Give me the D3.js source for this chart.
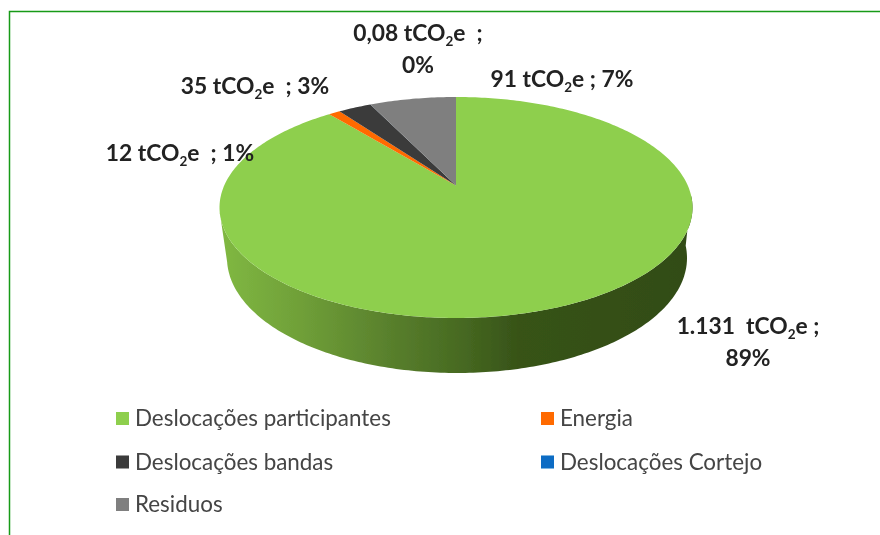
<!DOCTYPE html>
<html>
<head>
<meta charset="utf-8">
<script src="https://cdn.jsdelivr.net/npm/d3@7"></script>
<style>
  html, body { margin: 0; padding: 0; background: #fff; }
  svg { display: block; }
  text { font-family: Lato, "Open Sans", sans-serif; white-space: pre; }
</style>
</head>
<body>
<div id="chart-area"></div>
<script>
// slices, in drawing order (clockwise from 12 o'clock)
var categories = ["Deslocações participantes", "Energia", "Deslocações bandas", "Deslocações Cortejo", "Residuos"];
var values     = [1131, 12, 35, 0.08, 91];
var colors     = ["#8ecf4e", "#ff6a00", "#3a3a3a", "#0a6cc4", "#7f7f7f"];

// data labels, each line is [text before the subscript, text after it]
var labelLines = [
    [["1.131  tCO", "e ;"], ["89%", ""]],
    [["12 tCO", "e  ; 1%"]],
    [["35 tCO", "e  ; 3%"]],
    [["0,08 tCO", "e  ;"], ["0%", ""]],
    [["91 tCO", "e ; 7%"]]
];
var labelPos = [[748, 334], [180, 161], [255, 94], [418, 41], [562, 87]];

var width = 880, height = 535;

var svg = d3.select("#chart-area")
    .append("svg")
        .attr("width", width)
        .attr("height", height);

var defs = svg.append("defs");

var blur = defs.append("filter").attr("id", "soft")
    .attr("x", "-5%").attr("y", "-5%").attr("width", "110%").attr("height", "110%");
blur.append("feGaussianBlur").attr("stdDeviation", 0.5);

var wallGrad = defs.append("linearGradient")
    .attr("id", "wall")
    .attr("gradientUnits", "userSpaceOnUse")
    .attr("x1", 222).attr("x2", 692).attr("y1", 0).attr("y2", 0);
[[0, "#80b842"], [0.17, "#6f9f38"], [0.38, "#567c2b"], [0.5, "#486b22"], [0.63, "#375318"], [1, "#324c17"]]
    .forEach(function(s) {
        wallGrad.append("stop").attr("offset", s[0]).attr("stop-color", s[1]);
    });

// frame, open on the right
svg.append("path")
    .attr("d", "M9.5 535V11.5H880")
    .attr("fill", "none")
    .attr("stroke", "#179a17")
    .attr("stroke-width", 1.5);

var g = svg.append("g").attr("filter", "url(#soft)");

// the disc is drawn in perspective: its centre sits above the centre of the ellipse
var top3d = { cx: 456, cy: 207.5, rx: 236.5, ry: 110.5, apexUp: 22 };
var bottom3d = { cx: 457, cy: 258, rx: 230, ry: 115 };

var b = top3d.apexUp / top3d.ry;
var ax = top3d.rx * Math.sqrt(1 - b * b);

function project(a) {
    var u = Math.sin(a), v = Math.cos(a), k = 1 + b * v;
    return [
        top3d.cx + ax * u / k,
        top3d.cy - (top3d.ry * v + top3d.apexUp) / k
    ];
}

var pie = d3.pie().sort(null).value(function(d) { return d; });
var arcs = pie(values);
var apex = [top3d.cx, top3d.cy - top3d.apexUp];
var line = d3.line();

function slicePath(d) {
    var steps = Math.max(2, Math.ceil((d.endAngle - d.startAngle) * 60));
    var pts = [apex];
    d3.range(steps + 1).forEach(function(i) {
        pts.push(project(d.startAngle + (d.endAngle - d.startAngle) * i / steps));
    });
    return line(pts) + "Z";
}

// side wall, between the two ellipses
var wallPts = [];
d3.range(0, 181).forEach(function(i) {
    var t = (i - 6) * Math.PI / 176;
    wallPts.push([top3d.cx + top3d.rx * Math.cos(t), top3d.cy + top3d.ry * Math.sin(t)]);
});
d3.range(180, -1, -1).forEach(function(i) {
    var t = (i - 6) * Math.PI / 176;
    wallPts.push([bottom3d.cx + bottom3d.rx * Math.cos(t), bottom3d.cy + bottom3d.ry * Math.sin(t)]);
});
g.append("path")
    .attr("d", line(wallPts) + "Z")
    .attr("fill", "url(#wall)");

g.selectAll("path.slice")
    .data(arcs)
    .enter()
    .append("path")
        .attr("class", "slice")
        .attr("d", slicePath)
        .attr("fill", function(d, i) { return colors[i]; });

// data labels, one text per line so the subscript stays in the same anchored run
labelLines.forEach(function(lines, i) {
    lines.forEach(function(parts, j) {
        var t = g.append("text")
            .attr("class", "data-label")
            .attr("text-anchor", "middle")
            .attr("font-size", "22.8px")
            .attr("font-weight", 700)
            .attr("fill", "#222")
            .attr("x", labelPos[i][0])
            .attr("y", labelPos[i][1] + j * 31.5);
        t.append("tspan").text(parts[0]);
        if (parts[1]) {
            t.append("tspan").attr("dy", 5).attr("font-size", "13.5px").text("2");
            t.append("tspan").attr("dy", -5).text(parts[1]);
        }
    });
});

// legend
var legendX = [116, 116, 116, 541, 541];
var legendY = [418.5, 462, 504.5, 418.5, 462];
var legendOrder = [0, 2, 4, 1, 3];

var legend = g.selectAll("g.legend-item")
    .data(legendOrder)
    .enter()
    .append("g")
        .attr("class", "legend-item")
        .attr("transform", function(d, i) {
            return "translate(" + legendX[i] + ", " + legendY[i] + ")";
        });

legend.append("rect")
    .attr("y", -6.5)
    .attr("width", 13)
    .attr("height", 13)
    .attr("fill", function(d) { return colors[d]; });

legend.append("text")
    .attr("x", 19)
    .attr("y", 7.5)
    .attr("font-size", "22.4px")
    .attr("fill", "#444")
    .text(function(d) { return categories[d]; });
</script>
</body>
</html>
